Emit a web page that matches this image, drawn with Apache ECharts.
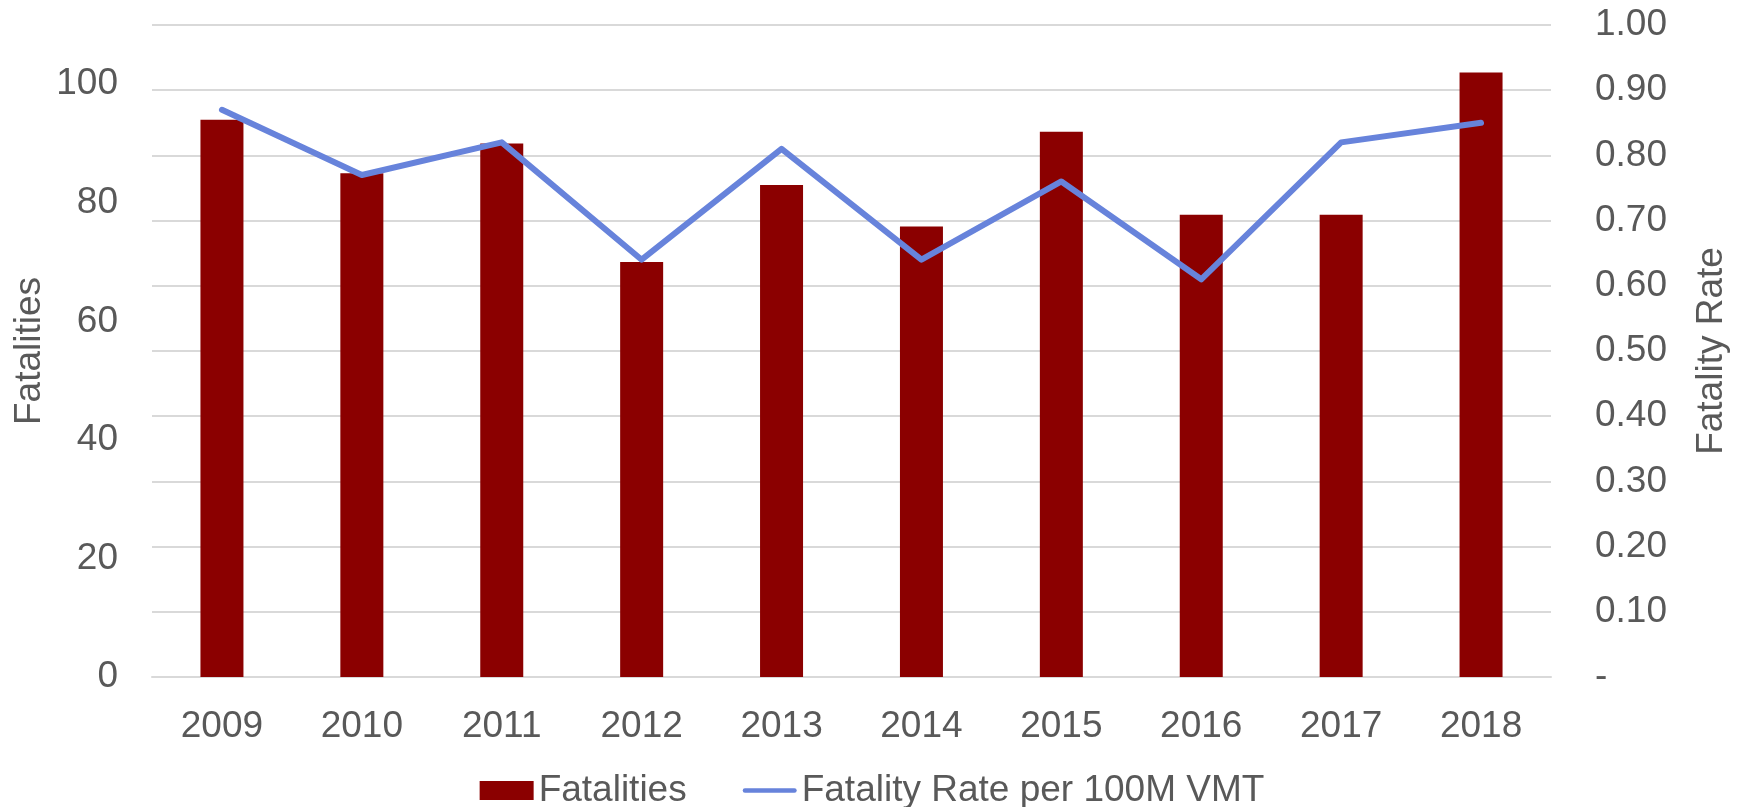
<!DOCTYPE html>
<html>
<head>
<meta charset="utf-8">
<script src="https://cdn.jsdelivr.net/npm/echarts@6/dist/echarts.min.js"></script>
<style>
    html, body { margin: 0; padding: 0; background: #fff; }
    #chart { width: 1744px; height: 807px; }
</style>
</head>
<body>
<div id="chart"></div>
<script>
// data
const years = ['2009', '2010', '2011', '2012', '2013', '2014', '2015', '2016', '2017', '2018'];
const fatalities = [94, 85, 90, 70, 83, 76, 92, 78, 78, 102];
const fatalityRate = [0.87, 0.77, 0.82, 0.64, 0.81, 0.64, 0.76, 0.61, 0.82, 0.85];

const textColor = '#595959';
const font = "'Liberation Sans', Arial, sans-serif";
const lineColor = '#6783db';

let chart = echarts.init(document.getElementById('chart'));

let option = {
    animation: false,
    textStyle: { fontFamily: font },
    grid: {
        left: 152,
        right: 193,
        top: 25,
        bottom: 130
    },
    legend: {
        top: 767,
        left: 'center',
        itemWidth: 54,
        itemHeight: 19,
        itemGap: 56,
        textStyle: {
            color: textColor,
            fontSize: 37,
            fontFamily: font
        },
        data: [
            { name: 'Fatalities', icon: 'rect' },
            {
                name: 'Fatality Rate per 100M VMT',
                // plain thick line, no marker
                icon: 'path://M2.5,0H57.5A2.5,2.5 0 0 1 57.5,5H2.5A2.5,2.5 0 0 1 2.5,0Z',
                itemStyle: { color: lineColor }
            }
        ]
    },
    xAxis: {
        type: 'category',
        data: years,
        axisLine: { lineStyle: { color: '#d9d9d9', width: 2 } },
        axisTick: { show: false },
        axisLabel: {
            color: textColor,
            fontSize: 37,
            margin: 31
        }
    },
    yAxis: [{
        type: 'value',
        name: 'Fatalities',
        nameLocation: 'middle',
        nameGap: 104,
        nameMoveOverlap: false,
        nameTextStyle: { color: textColor, fontSize: 37 },
        min: 0,
        max: 110,
        interval: 20,
        splitLine: { show: false },
        axisLine: { show: false },
        axisTick: { show: false },
        axisLabel: {
            color: textColor,
            fontSize: 37,
            margin: 34,
            formatter(v) {
                return v > 100 ? '' : v;
            }
        }
    }, {
        type: 'value',
        name: 'Fatality Rate',
        nameLocation: 'middle',
        nameGap: 142,
        nameTextStyle: { color: textColor, fontSize: 37 },
        min: 0,
        max: 1,
        interval: 0.1,
        splitLine: {
            show: true,
            lineStyle: { color: '#d9d9d9', width: 2 }
        },
        axisLine: { show: false },
        axisTick: { show: false },
        axisLabel: {
            color: textColor,
            fontSize: 37,
            margin: 44,
            formatter(v) {
                return v === 0 ? '-' : v.toFixed(2);
            }
        }
    }],
    series: [{
        name: 'Fatalities',
        type: 'bar',
        yAxisIndex: 0,
        barWidth: 43,
        itemStyle: { color: '#8b0000' },
        data: fatalities
    }, {
        name: 'Fatality Rate per 100M VMT',
        type: 'line',
        yAxisIndex: 1,
        symbol: 'none',
        lineStyle: { color: lineColor, width: 6, cap: 'round', join: 'round' },
        itemStyle: { color: lineColor },
        data: fatalityRate
    }]
};

chart.setOption(option);
</script>
</body>
</html>
